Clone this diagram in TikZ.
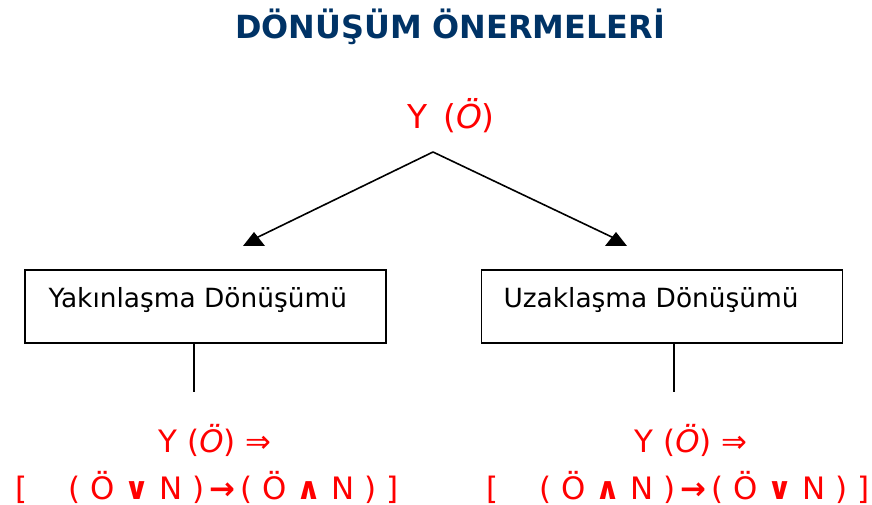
\documentclass[tikz,border=0pt]{standalone}
\usepackage{fontspec}
\setmainfont{DejaVu Sans}
\usetikzlibrary{calc}

\definecolor{navy}{RGB}{0,51,102}

\begin{document}
\begin{tikzpicture}[x=1bp, y=1bp, >=stealth,
	redtext/.style={text=red, inner sep=0pt, font=\fontsize{31}{36}\selectfont},
	boxtext/.style={draw, line width=1.6bp, minimum width=361bp, minimum height=73bp, inner sep=0pt},
	]

	\useasboundingbox (0,0) rectangle (872,-505);

	% title
	\node[text=navy, font=\fontsize{32}{38}\bfseries] (title) at (450,-27) {DÖNÜŞÜM ÖNERMELERİ};

	% root
	\node[redtext, font=\fontsize{33}{38}\selectfont] (root) at (451,-116) {Y\,\ (\textit{Ö})};

	\coordinate (split) at (433,-152);
	\coordinate (tipL) at (254,-239);
	\coordinate (tipR) at (616,-239);

	% branches
	\draw[line width=1.6bp] (split) -- (tipL);
	\draw[line width=1.6bp] (split) -- (tipR);
	\fill (tipL) ++(-11,-7) -- ++(22,0) -- ++(-11,14) -- cycle;
	\fill (tipR) ++(-11,-7) -- ++(22,0) -- ++(-11,14) -- cycle;

	% boxes
	\node[boxtext] (leftbox) at (205.5,-306.5) {};
	\node[boxtext] (rightbox) at (662,-306.5) {};
	\node[anchor=west, font=\fontsize{26.5}{30}\selectfont] (lefttitle) at (45,-300) {Yakınlaşma Dönüşümü};
	\node[anchor=west, font=\fontsize{26.5}{30}\selectfont] (righttitle) at (500,-300) {Uzaklaşma Dönüşümü};

	% stems
	\coordinate (leftstem) at (194,-392);
	\coordinate (rightstem) at (674,-392);
	\draw[line width=1.6bp] (leftstem |- leftbox.south) -- (leftstem);
	\draw[line width=1.6bp] (rightstem |- rightbox.south) -- (rightstem);

	% formulas
	\node[redtext] (leftY) at (215,-440) {Y (\textit{Ö})\ ⇒};
	\node[redtext] (leftF) at (207,-487) {[\quad\ ( Ö \textbf{∨} N )\,\textbf{→}\,( Ö \textbf{∧} N ) ]};
	\node[redtext] (rightY) at (691,-440) {Y (\textit{Ö})\ ⇒};
	\node[redtext] (rightF) at (678,-487) {[\quad\ ( Ö \textbf{∧} N )\,\textbf{→}\,( Ö \textbf{∨} N ) ]};

\end{tikzpicture}
\end{document}
